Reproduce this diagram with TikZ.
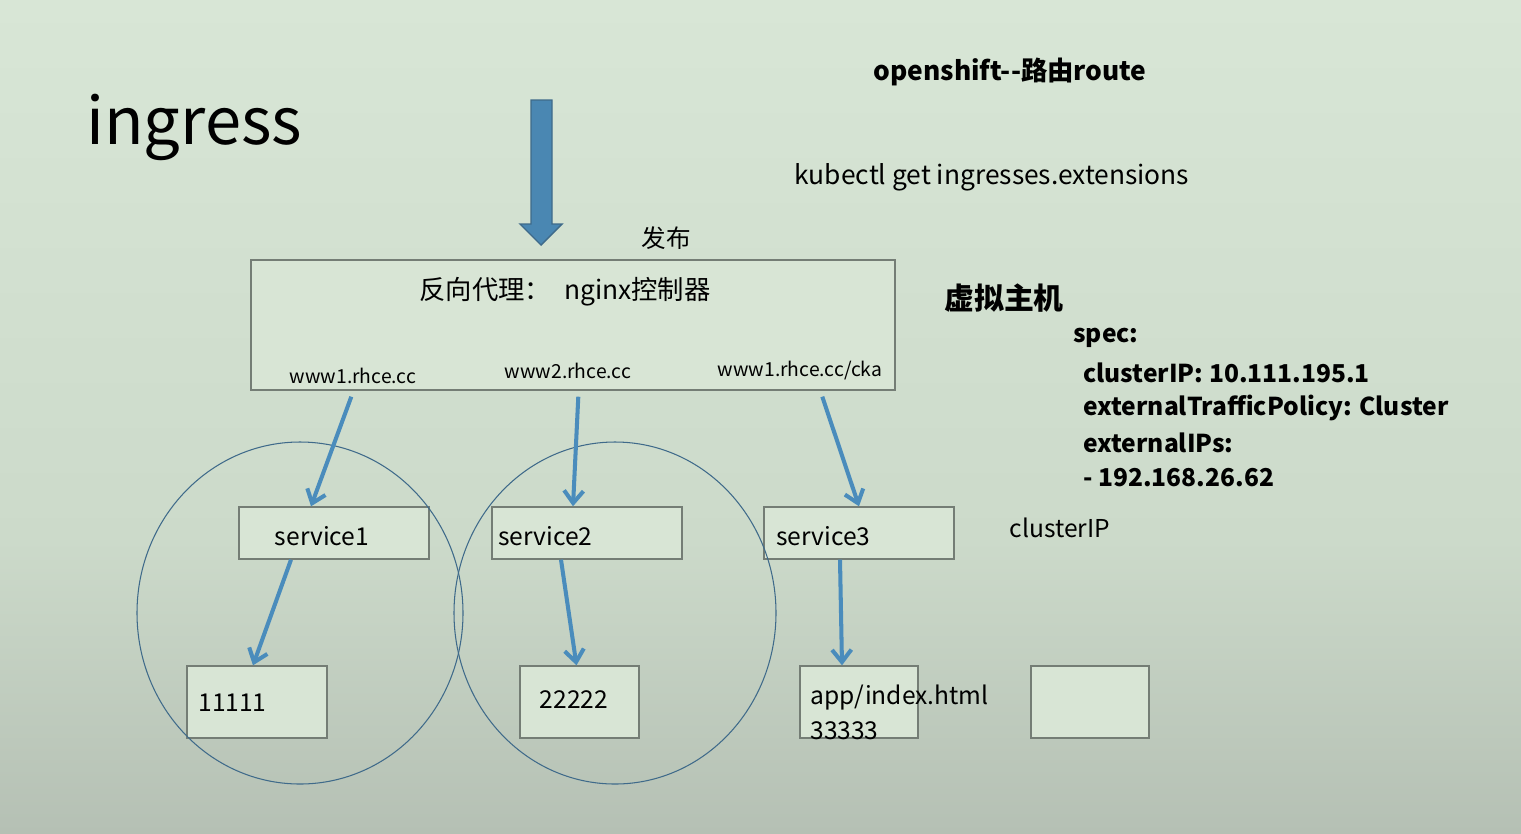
\documentclass[tikz,border=0pt]{standalone}
\usepackage{fontspec}
\setmainfont{Noto Sans CJK SC}
\usetikzlibrary{arrows.meta, calc, positioning}
\definecolor{bgtop}{HTML}{D8E6D6}
\definecolor{bgmid}{HTML}{CCDACA}
\definecolor{bgbot}{HTML}{B5C0B4}
\definecolor{boxfill}{HTML}{D8E5D5}
\definecolor{boxline}{HTML}{747D75}
\definecolor{flowblue}{HTML}{4A8CBC}
\definecolor{bigblue}{HTML}{4A87B2}
\definecolor{ringblue}{HTML}{3F6A8A}

\begin{document}
\begin{tikzpicture}[x=0.02cm,y=-0.02cm]
  % styles
  \tikzset{
    box/.style={draw=boxline,fill=boxfill,line width=0.8pt,inner sep=0pt},
    flow/.style={draw=flowblue,line width=2.3pt,-{Straight Barb[length=7pt,width=11pt,line width=2.3pt]}},
    ring/.style={draw=ringblue,line width=0.6pt},
    url/.style={font=\fontsize{11}{13}\selectfont,inner sep=0pt},
    label/.style={font=\fontsize{14}{16}\selectfont,inner sep=0pt},
    spec/.style={font=\bfseries\fontsize{14}{20}\selectfont,inner sep=0pt,anchor=west}
  }

  % background
  \useasboundingbox (0,0) rectangle (1521,833);
  \fill[top color=bgtop,bottom color=bgmid] (0,0) rectangle (1521,540);
  \fill[top color=bgmid,bottom color=bgbot] (0,540) rectangle (1521,833);

  % titles
  \node[anchor=west,inner sep=0pt,font=\fontsize{37}{40}\selectfont] (title) at (86,127) {ingress};
  \node[inner sep=0pt,font=\bfseries\fontsize{15}{18}\selectfont] (route) at (1010,72) {openshift-{}-路由route};
  \node[inner sep=0pt,font=\fontsize{15}{18}\selectfont] (kubectl) at (992,177) {kubectl get ingresses.extensions};
  \node[label] (publish) at (666,238) {发布};

  % big arrow
  \draw[fill=bigblue,draw=ringblue,line width=0.8pt]
    (531,100) -- (552,100) -- (552,224) -- (562,224) -- (541,245) -- (520,224) -- (531,224) -- cycle;

  % proxy box
  \node[box,minimum width=644*0.02cm,minimum height=130*0.02cm] (proxy) at (573,325) {};
  \node[label,font=\fontsize{15}{17}\selectfont] (nginx) at (565,292) {反向代理：\enspace nginx控制器};
  \node[url] (url1) at (353,376) {www1.rhce.cc};
  \node[url] (url2) at (568,371) {www2.rhce.cc};
  \node[url] (url3) at (800,371) {www1.rhce.cc/cka};

  \node[font=\bfseries\fontsize{17}{20}\selectfont,inner sep=0pt] (vhost) at (1004,298) {虚拟主机};

  % spec
  \node[spec] (spec0) at (1073,338) {spec:};
  \node[spec] (spec1) at (1083,373) {clusterIP: 10.111.195.1};
  \node[spec] (spec2) at (1083,408) {externalTrafficPolicy: Cluster};
  \node[spec] (spec3) at (1083,443) {externalIPs:};
  \node[spec] (spec4) at (1083,478) {- 192.168.26.62};

  % services
  \node[box,minimum width=190*0.02cm,minimum height=52*0.02cm] (svc1) at (334,533) {};
  \node[label] at (322,536) {service1};
  \node[box,minimum width=190*0.02cm,minimum height=52*0.02cm] (svc2) at (587,533) {};
  \node[label,anchor=west] at (498,536) {service2};
  \node[box,minimum width=190*0.02cm,minimum height=52*0.02cm] (svc3) at (859,533) {};
  \node[label,anchor=west] at (776,536) {service3};
  \node[label] (cip) at (1060,528) {clusterIP};

  % pods
  \node[box,minimum width=140*0.02cm,minimum height=72*0.02cm] (pod1) at (257,702) {};
  \node[label,anchor=west] at (198,703) {11111};
  \node[box,minimum width=119*0.02cm,minimum height=72*0.02cm] (pod2) at (579.5,702) {};
  \node[label] at (574,700) {22222};
  \node[box,minimum width=118*0.02cm,minimum height=72*0.02cm] (pod3) at (859,702) {};
  \node[label,anchor=west,align=left,font=\fontsize{14}{20}\selectfont] at (810,712) {app/index.html\\33333};
  \node[box,minimum width=118*0.02cm,minimum height=72*0.02cm] (pod4) at (1090,702) {};

  % namespaces
  \draw[ring] (300,613) ellipse [x radius=163,y radius=171];
  \draw[ring] (615,613) ellipse [x radius=161,y radius=171];

  % edges
  \draw[flow] ($(proxy.south west)+(101,6)$) -- ($(svc1.north)+(-23,0)$);
  \draw[flow] ($(proxy.south west)+(328,6)$) -- ($(svc2.north)+(-14,0)$);
  \draw[flow] ($(proxy.south west)+(572,6)$) -- ($(svc3.north)+(0,0)$);
  \draw[flow] ($(svc1.south)+(-43,0)$) -- ($(pod1.north)+(-4,0)$);
  \draw[flow] ($(svc2.south)+(-26,0)$) -- ($(pod2.north)+(-3,0)$);
  \draw[flow] ($(svc3.south)+(-19,0)$) -- ($(pod3.north)+(-17,0)$);
\end{tikzpicture}
\end{document}
